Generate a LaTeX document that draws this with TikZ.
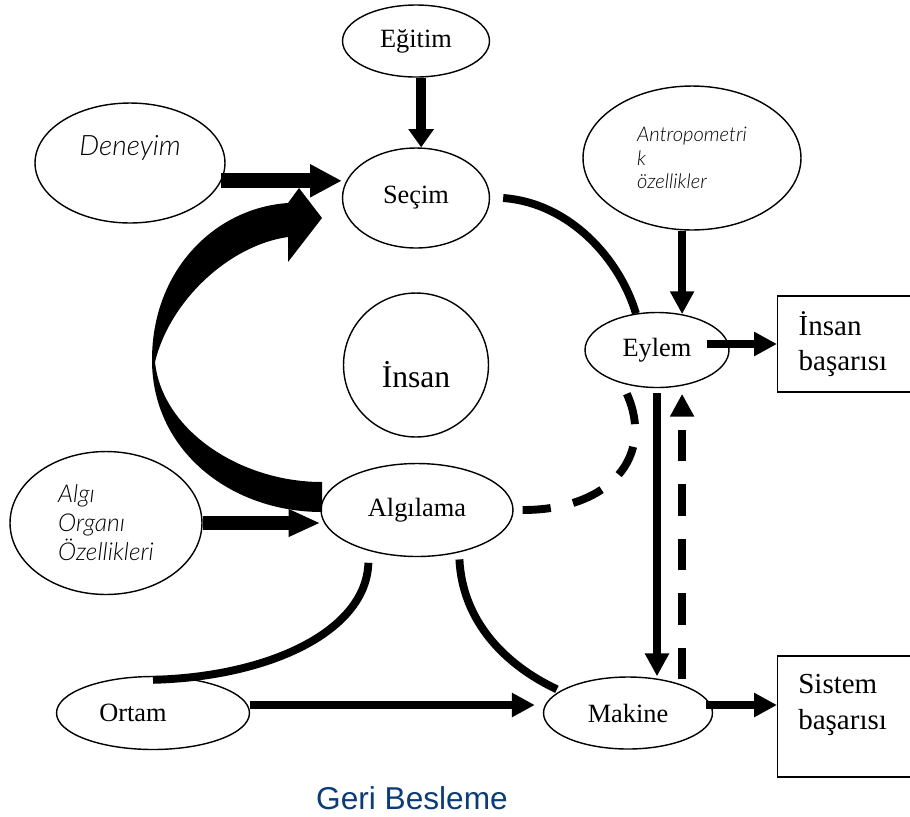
\documentclass[tikz,border=0pt]{standalone}
\usepackage{fontspec}
\setmainfont{Liberation Serif}
\setsansfont{Liberation Sans}
\newfontfamily\gillfont{Lato Light}
\usepackage{tikz}
\usetikzlibrary{arrows.meta}
\usetikzlibrary{shapes.geometric}
\definecolor{feedblue}{RGB}{10,60,120}
\tikzset{
        oval/.style={draw, ellipse, line width=0.8pt, inner sep=0pt, font=\fontsize{15}{18}\selectfont},
        result/.style={draw, rectangle, line width=0.8pt, align=left, anchor=west, inner ysep=0pt, font=\fontsize{16.5}{20}\selectfont},
        idea/.style={font=\gillfont\itshape\fontsize{16}{19}\selectfont},
        flow/.style={line width=4.2pt, -{Triangle[length=13pt,width=13pt]}},
        bigflow/.style={line width=8.5pt, -{Triangle[length=18pt,width=17.6pt]}},
        link/.style={line width=4.5pt},
        backdash/.style={dash pattern=on 18pt off 13pt}
}

\begin{document}
\begin{tikzpicture}[x=0.02cm, y=-0.02cm]
        \useasboundingbox (0,0) rectangle (910,816);
        \clip (0,0) rectangle (910,816);
        \node[oval, minimum width=2.94cm, minimum height=1.44cm] (egitim) at (416,41) {Eğitim};
        \node[oval, minimum width=3.8cm, minimum height=2.4cm,
                label={[idea, yshift=0.3cm]center:Deneyim}] (deneyim) at (130,163) {};
        \node[oval, minimum width=2.94cm, minimum height=2cm] (secim) at (416,198) {Seçim};
        \node[oval, minimum width=4.36cm, minimum height=2.88cm, align=left,
                font=\gillfont\itshape\fontsize{11.5}{13.4}\selectfont] (antro) at (692,158) {Antropometri\\k\\özellikler};
        \node[oval, minimum width=2.9cm, minimum height=2.88cm,
                label={[font=\fontsize{18}{21}\selectfont, yshift=-0.2cm]center:İnsan}] (insan) at (416,365) {};
        \node[oval, minimum width=2.88cm, minimum height=1.5cm] (eylem) at (657,350) {Eylem};
        \node[oval, minimum width=3.84cm, minimum height=2.86cm, align=left,
                font=\gillfont\itshape\fontsize{14}{16.5}\selectfont] (algi) at (106,523) {Algı\\Organı\\Özellikleri};
        \node[oval, minimum width=3.84cm, minimum height=1.86cm] (algilama) at (417,510) {Algılama};
        \node[oval, minimum width=3.86cm, minimum height=1.46cm,
                label={[font=\fontsize{15}{18}\selectfont, xshift=-0.4cm]center:Ortam}] (ortam) at (153,713) {};
        \node[oval, minimum width=3.38cm, minimum height=1.44cm] (makine) at (628,713) {Makine};
        \node[result, minimum height=1.92cm, text width=2.02cm, inner xsep=0.42cm] (insanbox) at (777,344) {İnsan\\başarısı};
        \node[result, minimum width=2.86cm, minimum height=2.42cm,
                label={[anchor=north west, align=left, inner sep=0pt, font=\fontsize{16.5}{20}\selectfont,
                        xshift=0.42cm, yshift=-0.38cm]north west:Sistem\\başarısı}] (sistembox) at (777,716.5) {};
        \node[font=\sffamily\fontsize{18}{21}\selectfont, text=feedblue] (feedback) at (412,798) {Geri Besleme};

        \fill (322,512) .. controls (230,512) and (152,450) .. (152,360)
                .. controls (152,270) and (215,208) .. (288,203) -- (299,188) -- (322,218) -- (288,262) -- (288,237)
                .. controls (230,245) and (170,300) .. (155,362)
                .. controls (162,430) and (240,482) .. (322,482) -- cycle;

        \draw[flow, line width=5.7pt, -{Triangle[length=10.4pt,width=14pt]}] (egitim.-82) -- (egitim.-82 |- secim.north);
        \draw[bigflow] (deneyim.-11) -- (deneyim.-11 -| secim.west);
        \draw[bigflow, line width=8pt, -{Triangle[length=18pt,width=14.5pt]}] (algi.east) -- (algi.east -| algilama.west);
        \draw[flow] (antro.south -| eylem.55) -- (eylem.55);
        \draw[flow] ([xshift=-0.46cm]eylem.east |- insanbox.west) -- (insanbox.west);
        \draw[flow] ([xshift=-0.14cm,yshift=0.16cm]makine.east) -- ([yshift=0.16cm]makine.east -| sistembox.west);
        \draw[flow] ([yshift=0.16cm]ortam.east) -- ([xshift=-0.16cm,yshift=0.16cm]ortam.east -| makine.west);
        \draw[flow] ([yshift=-0.1cm]eylem.south) -- (eylem.south |- makine.north);
        \draw[flow, backdash] ([yshift=-0.06cm]eylem.-55 |- makine.north) -- ([yshift=-0.16cm]eylem.-55);

        \draw[link] ([xshift=0.26cm]secim.east) .. controls +(67,5) and +(-16,-54) .. (eylem.120);
        \draw[link, backdash] ([yshift=-0.18cm]eylem.-131) .. controls +(28,62) and +(88,0) .. ([xshift=0.18cm]algilama.east);
        \draw[link] ([yshift=-0.24cm]algilama.-140) .. controls +(-2,68) and +(117,-3) .. ([yshift=-0.08cm]ortam.north);
        \draw[link] ([yshift=-0.14cm]algilama.-45) .. controls +(3,61) and +(-53,-25) .. ([xshift=-0.12cm]makine.160);
\end{tikzpicture}
\end{document}
